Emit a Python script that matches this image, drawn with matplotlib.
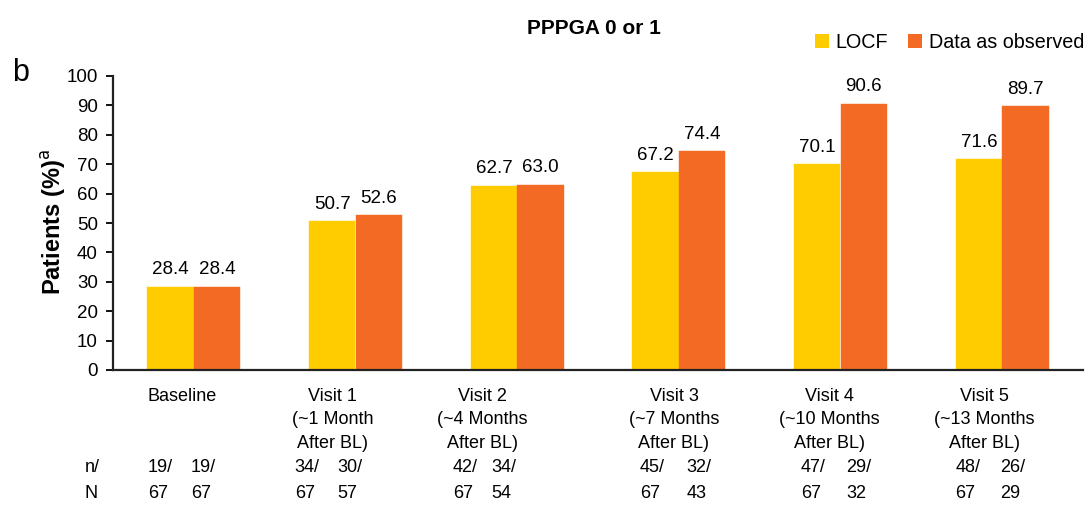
import matplotlib
matplotlib.use("Agg")
import matplotlib.pyplot as plt
import matplotlib.transforms as mtrans
from matplotlib.patches import Patch

# Data
visits = ["Baseline",
          "Visit 1\n(~1 Month\nAfter BL)",
          "Visit 2\n(~4 Months\nAfter BL)",
          "Visit 3\n(~7 Months\nAfter BL)",
          "Visit 4\n(~10 Months\nAfter BL)",
          "Visit 5\n(~13 Months\nAfter BL)"]
locf = [28.4, 50.7, 62.7, 67.2, 70.1, 71.6]
observed = [28.4, 52.6, 63.0, 74.4, 90.6, 89.7]
locf_n = [19, 34, 42, 45, 47, 48]
locf_N = [67, 67, 67, 67, 67, 67]
obs_n = [19, 30, 34, 32, 29, 26]
obs_N = [67, 57, 54, 43, 32, 29]
series_names = ["LOCF", "Data as observed"]
title = "PPPGA 0 or 1"
ylabel = "Patients (%)$^{\\mathrm{a}}$"
yticks = list(range(0, 101, 10))

# Styling / layout
YELLOW = "#FFCC00"
ORANGE = "#F26A23"
FONT = "Liberation Sans"
FS = 13.5
bar_w = 0.288
label_x = [-0.072, 0.859, 1.787, 2.970, 3.930, 4.891]   # category label centres
col_left = [-0.284, 0.624, 1.602, 2.760, 3.756, 4.710]  # LOCF count column (left edge)
col_right = [-0.017, 0.887, 1.843, 3.047, 4.035, 4.989]  # observed count column

plt.rcParams["font.family"] = [FONT, "DejaVu Sans"]

W, H = 1086, 505
fig = plt.figure(figsize=(W / 100, H / 100), dpi=100)
ax = fig.add_axes([113 / W, 135 / H, (1083 - 113) / W, (370 - 76) / H])


def fig_y(py):
    return 1 - py / H


x = list(range(len(visits)))
b1 = ax.bar([i - bar_w / 2 for i in x], locf, width=bar_w, color=YELLOW,
            edgecolor=YELLOW, linewidth=0.3)
b2 = ax.bar([i + bar_w / 2 for i in x], observed, width=bar_w, color=ORANGE,
            edgecolor=ORANGE, linewidth=0.3)

for bars, vals in ((b1, locf), (b2, observed)):
    for rect, v in zip(bars, vals):
        ax.annotate(f"{v:.1f}", (rect.get_x() + rect.get_width() / 2, v),
                    xytext=(0, 6), textcoords="offset points",
                    ha="center", va="bottom", fontsize=FS)

ax.set_xlim(-0.5, 5.5)
ax.set_ylim(0, 100)
ax.set_yticks(yticks)
ax.tick_params(axis="y", direction="out", length=5, width=1.3, labelsize=FS, pad=6)
ax.set_xticks([])
for s in ("top", "right"):
    ax.spines[s].set_visible(False)
for s in ("left", "bottom"):
    ax.spines[s].set_linewidth(1.6)
    ax.spines[s].set_color("#222222")

# y-axis title placed at a fixed figure position
fig.text(54 / W, fig_y(222), ylabel, rotation=90, ha="center", va="center",
         fontsize=17, fontweight="bold")

# Category labels below the axis
blend = mtrans.blended_transform_factory(ax.transData, fig.transFigure)
for lx, name in zip(label_x, visits):
    ax.text(lx, fig_y(388), name, transform=blend, ha="center", va="top",
            fontsize=13, linespacing=1.5)

# n / N count rows
for i in range(len(visits)):
    ax.text(col_left[i], fig_y(467), f"{locf_n[i]}/", transform=blend,
            ha="left", va="center", fontsize=13)
    ax.text(col_right[i], fig_y(467), f"{obs_n[i]}/", transform=blend,
            ha="left", va="center", fontsize=13)
    ax.text(col_left[i], fig_y(494), f"{locf_N[i]}", transform=blend,
            ha="left", va="center", fontsize=13)
    ax.text(col_right[i], fig_y(494), f"{obs_N[i]}", transform=blend,
            ha="left", va="center", fontsize=13)
fig.text(85 / W, fig_y(467), "n/", ha="left", va="center", fontsize=13)
fig.text(85 / W, fig_y(494), "N", ha="left", va="center", fontsize=13)

# Title, panel letter and legend
fig.text(594 / W, fig_y(29), title, ha="center", va="center",
         fontsize=15, fontweight="bold")
fig.text(12 / W, fig_y(73), "b", ha="left", va="center", fontsize=22)

handles = [Patch(facecolor=YELLOW, edgecolor="none"),
           Patch(facecolor=ORANGE, edgecolor="none")]
fig.legend(handles, series_names, loc="center right",
           bbox_to_anchor=(1084 / W, fig_y(42)), ncol=2, frameon=False,
           fontsize=14.2, handlelength=0.7, handleheight=0.7, handletextpad=0.35,
           columnspacing=1.0, borderaxespad=0, borderpad=0)

fig.savefig("out.png", dpi=100)
